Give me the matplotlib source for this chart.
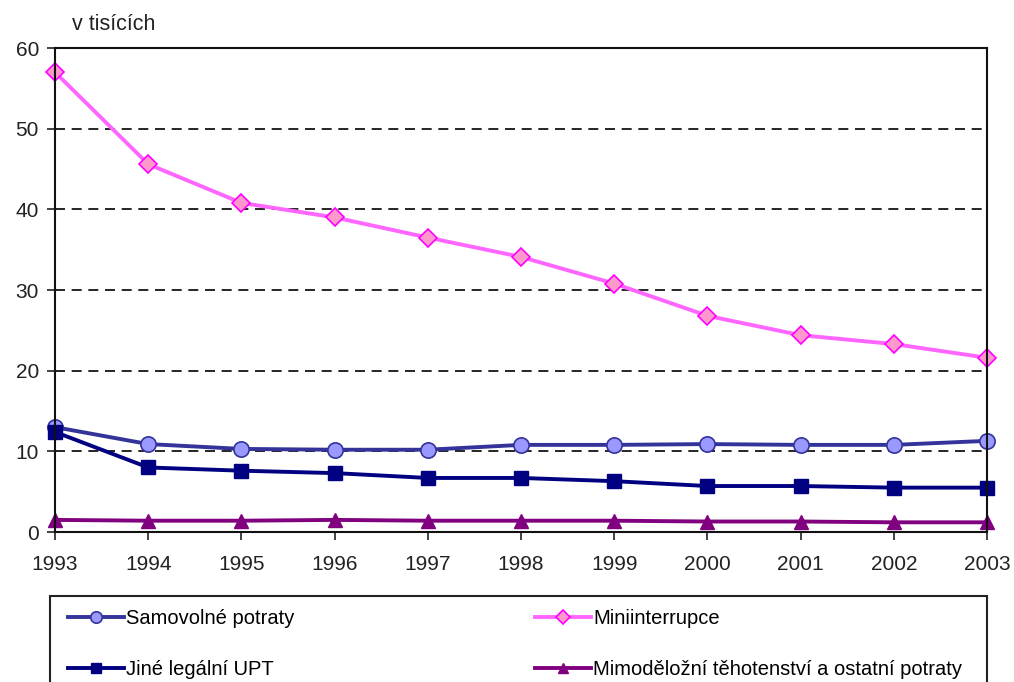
import matplotlib.pyplot as plt
from matplotlib.patches import Rectangle

plt.rcParams['font.family'] = ['Liberation Sans', 'DejaVu Sans']

years = [1993, 1994, 1995, 1996, 1997, 1998, 1999, 2000, 2001, 2002, 2003]
samovolne = [13.0, 10.9, 10.3, 10.2, 10.2, 10.8, 10.8, 10.9, 10.8, 10.8, 11.3]
mini = [57.0, 45.6, 40.8, 39.0, 36.5, 34.1, 30.8, 26.8, 24.4, 23.3, 21.6]
jine = [12.4, 8.0, 7.6, 7.3, 6.7, 6.7, 6.3, 5.7, 5.7, 5.5, 5.5]
mimo = [1.5, 1.4, 1.4, 1.5, 1.4, 1.4, 1.4, 1.3, 1.3, 1.2, 1.2]

labels = ['Samovolné potraty', 'Miniinterrupce', 'Jiné legální UPT',
          'Mimoděložní těhotenství a ostatní potraty']

fig = plt.figure(figsize=(10.14, 6.82), dpi=100)
ax = fig.add_axes([55/1014, 1-532/682, 932/1014, 484/682])

l1, = ax.plot(years, samovolne, color='#333399', lw=2.8, marker='o', ms=11,
              mfc='#9999ff', mec='#333399', mew=1.2, label=labels[0])
l2, = ax.plot(years, mini, color='#ff66ff', lw=2.8, marker='D', ms=9,
              mfc='#ff99cc', mec='#ff00ff', mew=1.2, label=labels[1])
l3, = ax.plot(years, jine, color='#000080', lw=2.8, marker='s', ms=10,
              mfc='#000080', mec='#000080', label=labels[2])
l4, = ax.plot(years, mimo, color='#800080', lw=2.8, marker='^', ms=10,
              mfc='#800080', mec='#800080', label=labels[3])

ax.set_xlim(1993, 2003)
ax.set_ylim(0, 60)
ax.set_xticks(years)
ax.set_yticks(range(0, 61, 10))
ax.tick_params(labelsize=15, colors='#222222', length=5.5, width=1.2, direction='out')
ax.tick_params(axis='x', pad=11)
ax.tick_params(axis='y', pad=6)
for s in ax.spines.values():
    s.set_linewidth(1.5)
    s.set_color('#111111')
for v in range(10, 60, 10):
    ax.axhline(v, color='black', lw=1.2, ls=(0, (6, 4)), zorder=0)
for l in (l1, l2, l3, l4):
    l.set_clip_on(False)

fig.text(72/1014, 1-24/682, 'v tisících', fontsize=15.5, color='#222222', va='center')

# legend frame (runs off the bottom of the picture, as in the original)
fig.patches.append(Rectangle((50/1014, -0.05), 937/1014, 1-596/682 + 0.05,
                             transform=fig.transFigure, fill=False,
                             edgecolor='#222222', lw=1.5))

leg_kw = dict(loc='upper left', fontsize=14.5, frameon=False, labelspacing=1.6,
              handlelength=2.8, handletextpad=0.1, borderpad=0,
              borderaxespad=0, markerscale=0.75)
fig.legend(handles=[l1, l3], bbox_to_anchor=(68/1014, 1-609/682), **leg_kw)
fig.legend(handles=[l2, l4], bbox_to_anchor=(535/1014, 1-609/682), **leg_kw)

fig.savefig('out.png', dpi=100)
